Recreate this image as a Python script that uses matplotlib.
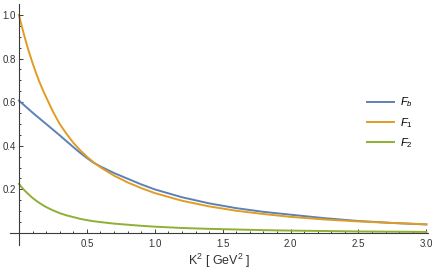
import numpy as np
import matplotlib
matplotlib.use("Agg")
import matplotlib.pyplot as plt
from matplotlib.ticker import FixedLocator

# Values
k2 = [0, 0.02, 0.04, 0.06, 0.08, 0.1, 0.125, 0.15, 0.175, 0.2, 0.25, 0.3, 0.35,
      0.4, 0.45, 0.5, 0.55, 0.6, 0.7, 0.8, 0.9, 1.0, 1.2, 1.4, 1.6, 1.8, 2.0,
      2.25, 2.5, 2.75, 3.0]
f_b = [0.607, 0.596, 0.585, 0.574, 0.563, 0.552, 0.539, 0.526, 0.513, 0.50,
       0.474, 0.448, 0.421, 0.394, 0.368, 0.344, 0.322, 0.305, 0.275, 0.249,
       0.223, 0.2, 0.164, 0.136, 0.114, 0.097, 0.084, 0.068, 0.055, 0.046, 0.039]
f_1 = [1.0, 0.95, 0.903, 0.859, 0.818, 0.78, 0.735, 0.694, 0.657, 0.623, 0.557,
       0.50, 0.455, 0.414, 0.38, 0.35, 0.324, 0.301, 0.263, 0.232, 0.206, 0.183,
       0.148, 0.122, 0.102, 0.087, 0.074, 0.062, 0.053, 0.046, 0.040]
f_2 = [0.225, 0.21, 0.196, 0.184, 0.172, 0.161, 0.149, 0.138, 0.128, 0.119,
       0.104, 0.091, 0.081, 0.073, 0.065, 0.059, 0.054, 0.05, 0.043, 0.038,
       0.033, 0.029, 0.023, 0.019, 0.016, 0.013, 0.011, 0.009, 0.007, 0.006,
       0.005]

series = [(f_b, r"$F_b$", "#5E81B5"), (f_1, r"$F_1$", "#E19C24"), (f_2, r"$F_2$", "#8FB032")]

plt.rcParams["font.family"] = ["Liberation Sans", "DejaVu Sans"]
plt.rcParams["mathtext.fontset"] = "custom"
plt.rcParams["mathtext.it"] = "Liberation Sans:italic"
plt.rcParams["mathtext.rm"] = "Liberation Sans"

fig = plt.figure(figsize=(4.36, 2.73), dpi=100)
ax = fig.add_axes([0.0229, 0.1026, 0.9588, 0.8827])

for vals, lab, col in series:
    ax.plot(k2, vals, color=col, lw=1.4, label=lab, solid_joinstyle="round")

ax.set_xlim(-0.066, 3.012)
ax.set_ylim(-0.055, 1.05)

axis_col = "#3c3c3c"
ax.spines["left"].set_position(("data", 0))
ax.spines["bottom"].set_position(("data", 0))
ax.spines["top"].set_visible(False)
ax.spines["right"].set_visible(False)
for s in ("left", "bottom"):
    ax.spines[s].set_color(axis_col)
    ax.spines[s].set_linewidth(0.8)

ax.xaxis.set_major_locator(FixedLocator([0.5, 1.0, 1.5, 2.0, 2.5, 3.0]))
ax.xaxis.set_minor_locator(FixedLocator([i / 10 for i in range(1, 31) if i % 5]))
ax.yaxis.set_major_locator(FixedLocator([0.2, 0.4, 0.6, 0.8, 1.0]))
ax.yaxis.set_minor_locator(FixedLocator([i / 20 for i in range(1, 21) if i % 4]))
ax.set_xticklabels(["0.5", "1.0", "1.5", "2.0", "2.5", "3.0"])
ax.set_yticklabels(["0.2", "0.4", "0.6", "0.8", "1.0"])

ax.tick_params(which="both", direction="in", color=axis_col, width=0.7,
               labelsize=7, labelcolor="#333333")
ax.tick_params(which="major", length=3)
ax.tick_params(which="minor", length=1.6)
ax.tick_params(axis="x", pad=4)
ax.tick_params(axis="y", pad=2)

ax.set_xlabel(r"K$^2$ $[$ GeV$^2$ $]$", fontsize=9, color="#333333", labelpad=2)

ax.legend(loc="center left", bbox_to_anchor=(0.83, 0.507), frameon=False,
          fontsize=8, handlelength=2.4, labelspacing=0.6, handletextpad=0.6)

fig.savefig("out.png", dpi=100)
